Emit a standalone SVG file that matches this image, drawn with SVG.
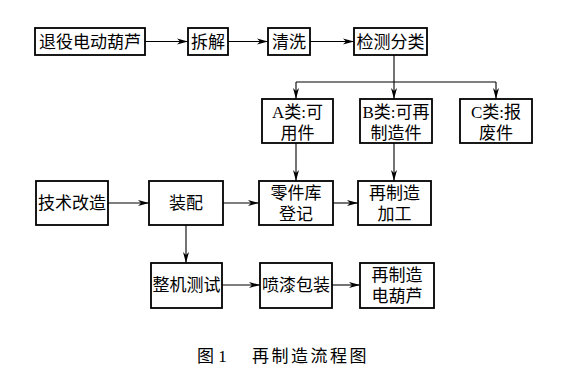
<svg xmlns="http://www.w3.org/2000/svg" width="568" height="378" viewBox="0 0 568 378">
<style>
.box{fill:#fff;stroke:#000;stroke-width:1.8}
.t{font-family:"Liberation Serif","Noto Sans CJK SC",serif;font-size:17px;fill:#000;text-anchor:middle}
.c{fill:none;stroke:#000;stroke-width:1.1}
.cap{font-family:"Liberation Serif","Noto Sans CJK SC",serif;font-size:17px;fill:#000}
</style>
<defs>
<marker id="ah" markerWidth="12" markerHeight="8" refX="11" refY="4" orient="auto" markerUnits="userSpaceOnUse">
<path d="M0,1 L11,4 L0,7 L3,4 Z" fill="#000"/>
</marker>
</defs>
<rect width="568" height="378" fill="#fff"/>
<g id="connectors">
<path class="c" d="M145,41.5 H188" marker-end="url(#ah)"/>
<path class="c" d="M228,41.5 H268" marker-end="url(#ah)"/>
<path class="c" d="M310,41.5 H354" marker-end="url(#ah)"/>
<path class="c" d="M394,55 V99" marker-end="url(#ah)"/>
<path class="c" d="M296,82 H496"/>
<path class="c" d="M296,82 V99" marker-end="url(#ah)"/>
<path class="c" d="M496,82 V99" marker-end="url(#ah)"/>
<path class="c" d="M296,143 V181" marker-end="url(#ah)"/>
<path class="c" d="M394,143 V181" marker-end="url(#ah)"/>
<path class="c" d="M108,203 H149" marker-end="url(#ah)"/>
<path class="c" d="M223,203 H259" marker-end="url(#ah)"/>
<path class="c" d="M333,203 H358" marker-end="url(#ah)"/>
<path class="c" d="M186,225 V263" marker-end="url(#ah)"/>
<path class="c" d="M222,285 H260" marker-end="url(#ah)"/>
<path class="c" d="M332,285 H360" marker-end="url(#ah)"/>
</g>
<g id="n1"><rect class="box" x="35" y="28" width="110" height="27"/><text class="t" x="90" y="48">退役电动葫芦</text></g>
<g id="n2"><rect class="box" x="188" y="28" width="40" height="27"/><text class="t" x="208" y="48">拆解</text></g>
<g id="n3"><rect class="box" x="268" y="28" width="42" height="27"/><text class="t" x="289" y="48">清洗</text></g>
<g id="n4"><rect class="box" x="354" y="28" width="73" height="27"/><text class="t" x="390.5" y="48">检测分类</text></g>
<g id="nA"><rect class="box" x="262" y="99" width="71" height="44"/><text class="t" x="297.5" y="118">A类:可</text><text class="t" x="297.5" y="139">用件</text></g>
<g id="nB"><rect class="box" x="360" y="99" width="72" height="44"/><text class="t" x="396" y="118">B类:可再</text><text class="t" x="396" y="139">制造件</text></g>
<g id="nC"><rect class="box" x="460" y="99" width="72" height="44"/><text class="t" x="496" y="118">C类:报</text><text class="t" x="496" y="139">废件</text></g>
<g id="n5"><rect class="box" x="36" y="181" width="72" height="44"/><text class="t" x="72" y="209">技术改造</text></g>
<g id="n6"><rect class="box" x="149" y="181" width="74" height="44"/><text class="t" x="186" y="209">装配</text></g>
<g id="n7"><rect class="box" x="259" y="181" width="74" height="44"/><text class="t" x="296" y="199">零件库</text><text class="t" x="296" y="220">登记</text></g>
<g id="n8"><rect class="box" x="358" y="181" width="73" height="44"/><text class="t" x="394.5" y="199">再制造</text><text class="t" x="394.5" y="220">加工</text></g>
<g id="n9"><rect class="box" x="151" y="263" width="71" height="45"/><text class="t" x="186.5" y="291">整机测试</text></g>
<g id="n10"><rect class="box" x="260" y="263" width="72" height="45"/><text class="t" x="296" y="291">喷漆包装</text></g>
<g id="n11"><rect class="box" x="360" y="263" width="74" height="45"/><text class="t" x="397" y="281">再制造</text><text class="t" x="397" y="302">电葫芦</text></g>
<text class="cap" x="197" y="362">图 1</text>
<text class="cap" x="252" y="362" letter-spacing="2.5">再制造流程图</text>
</svg>
